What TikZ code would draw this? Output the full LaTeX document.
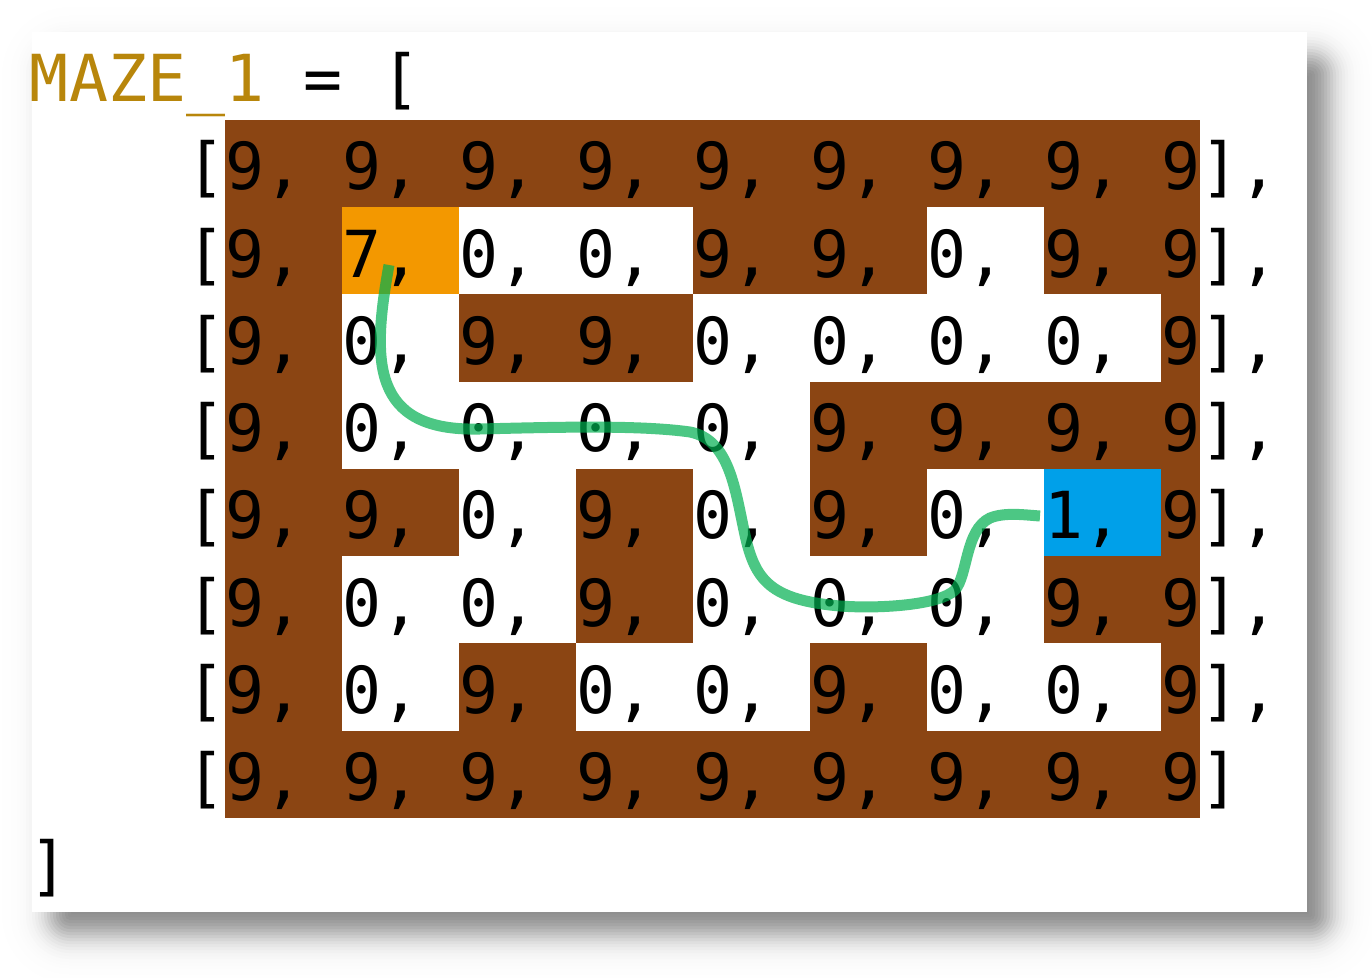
\documentclass[tikz,border=0pt]{standalone}
\usepackage{fontspec}
\newfontfamily\mono{DejaVu Sans Mono}
\definecolor{brownc}{RGB}{139,69,19}
\definecolor{orangec}{RGB}{243,152,0}
\definecolor{bluec}{RGB}{0,160,233}
\definecolor{goldc}{RGB}{184,134,11}
\definecolor{greenc}{RGB}{0,176,80}
\begin{document}
\begin{tikzpicture}[x=0.5pt,y=-0.5pt,
  txt/.style={anchor=base west,inner sep=0pt,outer sep=0pt,font=\mono\fontsize{32.4}{36}\selectfont},
  pathline/.style={draw=greenc,line width=5.5pt,opacity=0.7,line cap=butt}]
\useasboundingbox (0,0) rectangle (1372,978);
% blurred shadow, drawn as opaque layers from outside in
\foreach \e in {48,45,...,-45} {
  \pgfmathsetmacro\g{48/(1+exp(1.702*\e/15))}
  \pgfmathsetmacro\rc{max(\e+20,1)*0.5}
  \fill[black!\g!white,rounded corners=\rc pt] (50-\e,55-\e) rectangle (1330+\e,935+\e);
}
% panel
\fill[white] (32,32) rectangle (1307,912);
% grid base
\fill[brownc] (225,120) rectangle (1200,818);
\foreach \vals [count=\r from 0] in {{9,9,9,9,9,9,9,9,9},{9,7,0,0,9,9,0,9,9},{9,0,9,9,0,0,0,0,9},{9,0,0,0,0,9,9,9,9},{9,9,0,9,0,9,0,1,9},{9,0,0,9,0,0,0,9,9},{9,0,9,0,0,9,0,0,9},{9,9,9,9,9,9,9,9,9}} {
  \foreach \v [count=\c from 0] in \vals {
    \ifnum\v=0 \fill[white] (225+117*\c,120+87.25*\r) rectangle (342+117*\c,207.25+87.25*\r);\fi
    \ifnum\v=7 \fill[orangec] (225+117*\c,120+87.25*\r) rectangle (342+117*\c,207.25+87.25*\r);\fi
    \ifnum\v=1 \fill[bluec] (225+117*\c,120+87.25*\r) rectangle (342+117*\c,207.25+87.25*\r);\fi
  }
}
% text
\node[txt,text=goldc] (name) at (30,102) {MAZE\_1};
\node[txt] (eq) at (30+39*7,102) {=};
\node[txt] (open) at (30+39*9,102) {[};
\foreach \vals [count=\r from 0] in {{9,9,9,9,9,9,9,9,9},{9,7,0,0,9,9,0,9,9},{9,0,9,9,0,0,0,0,9},{9,0,0,0,0,9,9,9,9},{9,9,0,9,0,9,0,1,9},{9,0,0,9,0,0,0,9,9},{9,0,9,0,0,9,0,0,9},{9,9,9,9,9,9,9,9,9}} {
  \node[txt] (lb-\r) at (186,190+87.25*\r) {[};
  \foreach \v [count=\c from 0] in \vals {
    \node[txt] (t-\r-\c) at (225+117*\c,190+87.25*\r) {\ifnum\c<8 \v,\else\v]\ifnum\r<7 ,\fi\fi};
  }
}
\node[txt] (close) at (30,888) {]};
% path
\coordinate (start) at (389,265);
\coordinate (goal) at (1040,516);
\draw[pathline] (start) .. controls (372,360) and (370,432) .. (480,429)
  .. controls (560,427) and (640,425) .. (690,432)
  .. controls (730,440) and (735,490) .. (745,535)
  .. controls (755,580) and (770,600) .. (840,606)
  .. controls (880,609) and (940,605) .. (955,590)
  .. controls (968,575) and (965,530) .. (990,518)
  .. controls (1005,512) and (1025,515) .. (goal);
\end{tikzpicture}
\end{document}
